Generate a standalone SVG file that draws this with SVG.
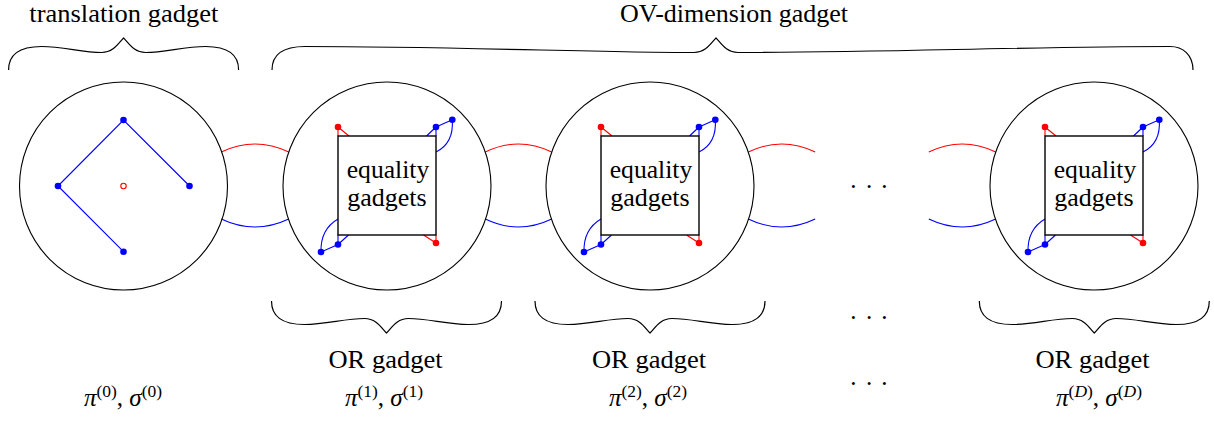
<svg xmlns="http://www.w3.org/2000/svg" xmlns:xlink="http://www.w3.org/1999/xlink" width="1214" height="428" viewBox="0 0 1214 428">
<defs>
<style>
.circ{fill:none;stroke:#000;stroke-width:1.1}
.sq{fill:#fff;stroke:#000;stroke-width:1.4}
.bl{fill:none;stroke:#0000ff;stroke-width:1.1}
.rl{fill:none;stroke:#ff0000;stroke-width:1.1}
.bd{fill:#0000ff}
.rd{fill:#ff0000}
.br{fill:none;stroke:#000;stroke-width:1.2}
text{font-family:'Liberation Serif','Times New Roman',Tinos,'Noto Serif','DejaVu Serif',FreeSerif,serif}
.t{font-size:25px;fill:#000}
.it{font-style:italic}
.sup{font-size:17.5px}
</style>
<path id="brace" class="br" d="M-115,0 C-115,-15 -105,-23.5 -82,-23.5 C-60,-23.5 -42,-17.5 -22,-17.5 C-10,-17.5 -5,-27 0,-32 C5,-27 10,-17.5 22,-17.5 C42,-17.5 60,-23.5 82,-23.5 C105,-23.5 115,-15 115,0"/>
</defs>
<rect width="1214" height="428" fill="#fff"/>

<g id="connectors">
<path class="rl" d="M221.3,152 Q255,136 288.7,152"/>
<path class="bl" d="M221.3,219 Q255,235 288.7,219"/>
<path class="rl" d="M485.3,152 Q518.5,136 551.7,152"/>
<path class="bl" d="M485.3,219 Q518.5,235 551.7,219"/>
<path class="rl" d="M748.3,152 Q781.7,136 815.2,152"/>
<path class="bl" d="M748.3,219 Q781.7,235 815.2,219"/>
<path class="rl" d="M928.8,152 Q962.2,136 995.7,152"/>
<path class="bl" d="M928.8,219 Q962.2,235 995.7,219"/>
</g>

<g id="translation-gadget" transform="translate(123.5,186)">
<circle class="circ" r="104"/>
<path class="bl" d="M-65.5,0 L0,-66 L66,0 M-65.5,0 L0,65.7"/>
<circle class="bd" cx="0" cy="-66" r="3.3"/>
<circle class="bd" cx="-65.5" cy="0" r="3.3"/>
<circle class="bd" cx="66" cy="0" r="3.3"/>
<circle class="bd" cx="0" cy="65.7" r="3.3"/>
<circle cx="0" cy="0" r="2.7" fill="none" stroke="#ff0000" stroke-width="1.1"/>
</g>

<g id="or-gadget-1" transform="translate(387,186)">
<circle class="circ" r="104"/>
<path class="rl" d="M-49,-59 L-49,-50 M-49,-59 L-38,-50"/>
<path class="bl" d="M49,-59 L49,-50 M49,-59 L39.5,-50 M49,-59 L65.3,-66.3 M65.3,-66.3 C66.5,-50 61,-40 49,-34"/>
<path class="bl" d="M-49,58.5 L-49,49 M-49,58.5 L-38.5,49 M-49,58.5 L-66,66 M-66,66 C-66.5,50 -61,40 -49,33"/>
<path class="rl" d="M49,57 L49,49 M49,57 L36.5,49"/>
<rect class="sq" x="-49" y="-50" width="98" height="99"/>
<circle class="rd" cx="-49" cy="-59" r="3.3"/>
<circle class="bd" cx="49" cy="-59" r="3.3"/>
<circle class="bd" cx="65.3" cy="-66.3" r="3.3"/>
<circle class="bd" cx="-49" cy="58.5" r="3.3"/>
<circle class="bd" cx="-66" cy="66" r="3.3"/>
<circle class="rd" cx="49" cy="57" r="3.3"/>
<text class="t" x="1" y="-8" text-anchor="middle" textLength="82.6" lengthAdjust="spacingAndGlyphs">equality</text>
<text class="t" x="0" y="19.5" text-anchor="middle" textLength="79.4" lengthAdjust="spacingAndGlyphs">gadgets</text>
</g>

<g id="or-gadget-2" transform="translate(650,186)">
<circle class="circ" r="104"/>
<path class="rl" d="M-49,-59 L-49,-50 M-49,-59 L-38,-50"/>
<path class="bl" d="M49,-59 L49,-50 M49,-59 L39.5,-50 M49,-59 L65.3,-66.3 M65.3,-66.3 C66.5,-50 61,-40 49,-34"/>
<path class="bl" d="M-49,58.5 L-49,49 M-49,58.5 L-38.5,49 M-49,58.5 L-66,66 M-66,66 C-66.5,50 -61,40 -49,33"/>
<path class="rl" d="M49,57 L49,49 M49,57 L36.5,49"/>
<rect class="sq" x="-49" y="-50" width="98" height="99"/>
<circle class="rd" cx="-49" cy="-59" r="3.3"/>
<circle class="bd" cx="49" cy="-59" r="3.3"/>
<circle class="bd" cx="65.3" cy="-66.3" r="3.3"/>
<circle class="bd" cx="-49" cy="58.5" r="3.3"/>
<circle class="bd" cx="-66" cy="66" r="3.3"/>
<circle class="rd" cx="49" cy="57" r="3.3"/>
<text class="t" x="1" y="-8" text-anchor="middle" textLength="82.6" lengthAdjust="spacingAndGlyphs">equality</text>
<text class="t" x="0" y="19.5" text-anchor="middle" textLength="79.4" lengthAdjust="spacingAndGlyphs">gadgets</text>
</g>

<g id="or-gadget-D" transform="translate(1094,186)">
<circle class="circ" r="104"/>
<path class="rl" d="M-49,-59 L-49,-50 M-49,-59 L-38,-50"/>
<path class="bl" d="M49,-59 L49,-50 M49,-59 L39.5,-50 M49,-59 L65.3,-66.3 M65.3,-66.3 C66.5,-50 61,-40 49,-34"/>
<path class="bl" d="M-49,58.5 L-49,49 M-49,58.5 L-38.5,49 M-49,58.5 L-66,66 M-66,66 C-66.5,50 -61,40 -49,33"/>
<path class="rl" d="M49,57 L49,49 M49,57 L36.5,49"/>
<rect class="sq" x="-49" y="-50" width="98" height="99"/>
<circle class="rd" cx="-49" cy="-59" r="3.3"/>
<circle class="bd" cx="49" cy="-59" r="3.3"/>
<circle class="bd" cx="65.3" cy="-66.3" r="3.3"/>
<circle class="bd" cx="-49" cy="58.5" r="3.3"/>
<circle class="bd" cx="-66" cy="66" r="3.3"/>
<circle class="rd" cx="49" cy="57" r="3.3"/>
<text class="t" x="1" y="-8" text-anchor="middle" textLength="82.6" lengthAdjust="spacingAndGlyphs">equality</text>
<text class="t" x="0" y="19.5" text-anchor="middle" textLength="79.4" lengthAdjust="spacingAndGlyphs">gadgets</text>
</g>

<g id="braces">
<use xlink:href="#brace" transform="translate(123.6,70)"/>
<path class="br" d="M272,70 C272,55 282,46.5 305,46.5 C450,46.5 600,52.5 694,52.5 C706,52.5 711,43 716,38 C721,43 726,52.5 738,52.5 C880,52.5 1030,46.5 1170,46.5 C1183,46.5 1193,55 1193,70"/>
<use xlink:href="#brace" transform="translate(386.5,301) scale(1,-1)"/>
<use xlink:href="#brace" transform="translate(650,301) scale(1,-1)"/>
<use xlink:href="#brace" transform="translate(1094.3,301) scale(1,-1)"/>
</g>

<g id="labels">
<text class="t" x="123.8" y="21.5" text-anchor="middle" textLength="189" lengthAdjust="spacingAndGlyphs">translation gadget</text>
<text class="t" x="734" y="21.5" text-anchor="middle" textLength="228" lengthAdjust="spacingAndGlyphs">OV-dimension gadget</text>
<text class="t" x="385.5" y="368.3" text-anchor="middle" textLength="114" lengthAdjust="spacingAndGlyphs">OR gadget</text>
<text class="t" x="649" y="368.3" text-anchor="middle" textLength="114" lengthAdjust="spacingAndGlyphs">OR gadget</text>
<text class="t" x="1092.5" y="368.3" text-anchor="middle" textLength="114" lengthAdjust="spacingAndGlyphs">OR gadget</text>
<text class="t" x="853.3 869 884.3" y="187.5" text-anchor="middle">...</text>
<text class="t" x="853.3 869 884.3" y="318.5" text-anchor="middle">...</text>
<text class="t" x="853.3 869 884.3" y="384.5" text-anchor="middle">...</text>
<text class="t" x="123" y="406" text-anchor="middle"><tspan class="it">π</tspan><tspan class="sup" dy="-9">(0)</tspan><tspan dy="9">, </tspan><tspan class="it">σ</tspan><tspan class="sup" dy="-9">(0)</tspan></text>
<text class="t" x="384" y="406" text-anchor="middle"><tspan class="it">π</tspan><tspan class="sup" dy="-9">(1)</tspan><tspan dy="9">, </tspan><tspan class="it">σ</tspan><tspan class="sup" dy="-9">(1)</tspan></text>
<text class="t" x="648" y="406" text-anchor="middle"><tspan class="it">π</tspan><tspan class="sup" dy="-9">(2)</tspan><tspan dy="9">, </tspan><tspan class="it">σ</tspan><tspan class="sup" dy="-9">(2)</tspan></text>
<text class="t" x="1099" y="406" text-anchor="middle"><tspan class="it">π</tspan><tspan class="sup" dy="-9">(<tspan class="it">D</tspan>)</tspan><tspan dy="9">, </tspan><tspan class="it">σ</tspan><tspan class="sup" dy="-9">(<tspan class="it">D</tspan>)</tspan></text>
</g>
</svg>
